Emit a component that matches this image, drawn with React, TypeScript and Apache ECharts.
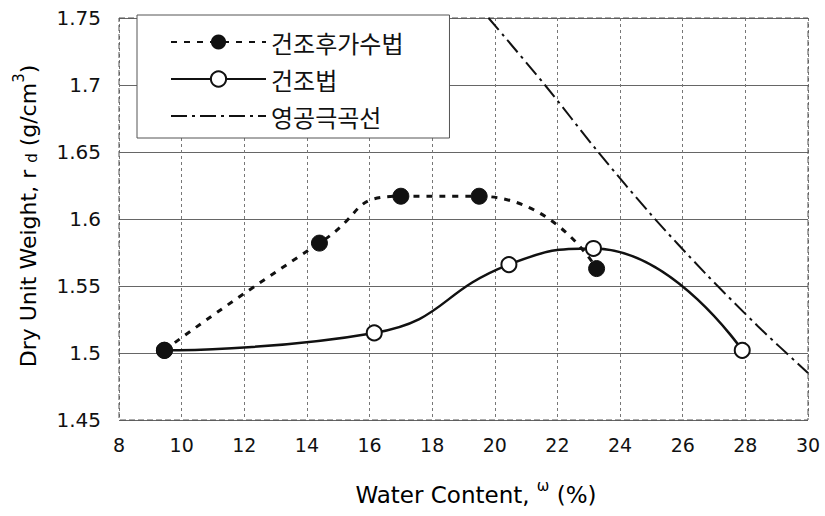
import React, { useEffect, useRef } from "react";
import * as echarts from "echarts";

// Water content (%) and dry unit weight (g/cm³)
const dryThenWetX = [9.45, 14.4, 17.0, 19.5, 23.25];
const dryThenWetY = [1.502, 1.582, 1.617, 1.617, 1.563];

const dryX = [9.45, 16.15, 20.45, 23.15, 27.9];
const dryY = [1.502, 1.515, 1.566, 1.578, 1.502];

const zavX = [19.8, 21.6, 23.3, 25.0, 26.7, 28.4, 30.0];
const zavY = [1.75, 1.7, 1.65, 1.603, 1.56, 1.52, 1.485];

const seriesNames = ["건조후가수법", "건조법", "영공극곡선"];

const FONT = "DejaVu Sans, Liberation Sans, sans-serif";
const KFONT = "Noto Sans CJK KR, sans-serif";

const pairs = (xs: number[], ys: number[]) => xs.map((x, i) => [x, ys[i]]);

export default function App() {
  const ref = useRef<HTMLDivElement>(null);

  useEffect(() => {
    if (!ref.current) return;
    const chart = echarts.init(ref.current, null, { renderer: "svg" });
    chart.setOption({
      animation: false,
      backgroundColor: "#ffffff",
      grid: { left: 119, right: 17, top: 18, bottom: 96 },
      legend: {
        left: 137,
        top: 15,
        orient: "vertical",
        data: [
          { name: seriesNames[0] },
          { name: seriesNames[1] },
          {
            name: seriesNames[2],
            itemStyle: { color: "transparent", borderColor: "transparent", borderWidth: 0, opacity: 0 },
          },
        ],
        itemWidth: 95,
        itemHeight: 19,
        itemGap: 11,
        padding: [14, 46, 9, 33],
        backgroundColor: "#ffffff",
        borderColor: "#555",
        borderWidth: 1,
        textStyle: { fontFamily: KFONT, fontSize: 24, lineHeight: 26, color: "#111" },
      },
      xAxis: {
        type: "value",
        min: 8,
        max: 30,
        interval: 2,
        axisLine: { show: false },
        axisTick: { show: false },
        axisLabel: { fontFamily: FONT, fontSize: 19, color: "#111", margin: 15 },
        splitLine: { show: true, lineStyle: { color: "#777", type: [3, 3], width: 1 } },
      },
      yAxis: {
        type: "value",
        min: 1.45,
        max: 1.75,
        interval: 0.05,
        axisLine: { show: false },
        axisTick: { show: false },
        axisLabel: {
          fontFamily: FONT,
          fontSize: 20,
          color: "#111",
          margin: 18,
          formatter: (v: number) => String(Math.round(v * 100) / 100),
        },
        splitLine: { show: true, lineStyle: { color: "#666", width: 1 } },
      },
      graphic: [
        // plot frame
        {
          type: "rect",
          shape: { x: 119, y: 18, width: 689, height: 402 },
          style: { fill: "none", stroke: "#555", lineWidth: 1, lineDash: [6, 3] },
          z: 1,
        },
        {
          type: "text",
          x: 476,
          y: 492,
          style: {
            align: "center",
            verticalAlign: "middle",
            rich: {
              a: { fontFamily: FONT, fontSize: 23, color: "#111", lineHeight: 28, verticalAlign: "bottom" },
              s: { fontFamily: FONT, fontSize: 15, color: "#111", lineHeight: 28, verticalAlign: "top" },
            },
            text: "{a|Water Content, }{s|ω}{a| (%)}",
          },
        },
        {
          type: "text",
          x: 25,
          y: 216,
          rotation: Math.PI / 2,
          style: {
            align: "center",
            verticalAlign: "middle",
            rich: {
              a: { fontFamily: FONT, fontSize: 22, color: "#111", lineHeight: 28, verticalAlign: "bottom" },
              d: { fontFamily: FONT, fontSize: 15, color: "#111", lineHeight: 26, verticalAlign: "bottom" },
              s: { fontFamily: FONT, fontSize: 15, color: "#111", lineHeight: 28, verticalAlign: "top" },
            },
            text: "{a|Dry Unit Weight, r }{d|d}{a| (g/cm}{s|3}{a|)}",
          },
        },
      ],
      series: [
        {
          name: seriesNames[2],
          type: "line",
          data: pairs(zavX, zavY),
          smooth: 0.3,
          symbol: "none",
          lineStyle: { color: "#111", width: 2, type: [16, 5, 3, 5] },
          itemStyle: { color: "#111" },
          z: 3,
        },
        {
          name: seriesNames[1],
          type: "line",
          data: pairs(dryX, dryY),
          smooth: 0.5,
          symbol: "circle",
          symbolSize: 15,
          lineStyle: { color: "#111", width: 2.5, type: "solid" },
          itemStyle: { color: "#ffffff", borderColor: "#111", borderWidth: 2 },
          z: 4,
        },
        {
          name: seriesNames[0],
          type: "line",
          data: pairs(dryThenWetX, dryThenWetY),
          smooth: 0.6,
          symbol: "circle",
          symbolSize: 16,
          lineStyle: { color: "#111", width: 3, type: [6, 7] },
          itemStyle: { color: "#111", borderColor: "#111" },
          z: 5,
        },
      ],
    });
    return () => chart.dispose();
  }, []);

  return (
    <div
      ref={ref}
      style={{ position: "absolute", left: 0, top: 0, width: 825, height: 516 }}
    />
  );
}
